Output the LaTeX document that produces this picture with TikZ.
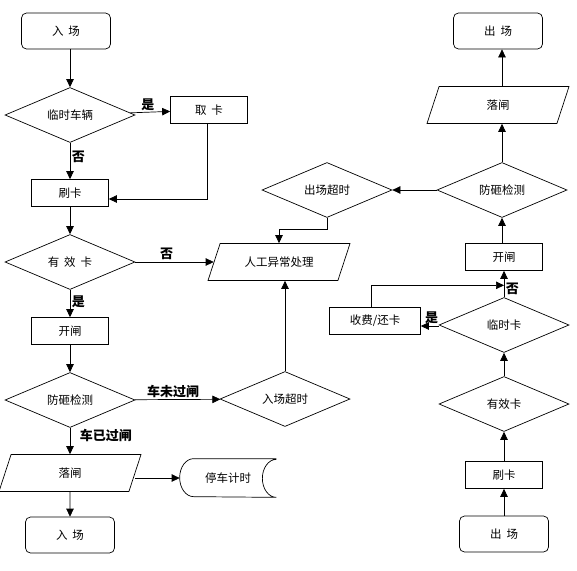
\documentclass[tikz,border=0pt]{standalone}
\usepackage{fontspec}
\setmainfont{Noto Sans CJK SC}
\usetikzlibrary{arrows.meta}
\usetikzlibrary{shapes.geometric}
\usetikzlibrary{calc}
\newcommand{\chgap}{\hspace{5pt}}

\begin{document}
\begin{tikzpicture}[x=1pt,y=1pt,line width=0.7pt]

  \tikzset{
    arr/.style={-{Triangle[length=8pt,width=7.5pt]}},
    term/.style={draw,rounded corners=5pt,minimum width=89pt,minimum height=36pt,
      font=\fontsize{11.5}{13}\selectfont},
    proc/.style={draw,minimum width=77pt,minimum height=27pt,
      font=\fontsize{11.5}{13}\selectfont},
    decide/.style={draw,diamond,aspect=2.4,minimum width=130pt,minimum height=55pt,
      inner sep=0pt,font=\fontsize{11.5}{13}\selectfont},
    io/.style={draw,trapezium,trapezium left angle=55,trapezium right angle=125,
      trapezium stretches body,minimum width=142pt,minimum height=37pt,
      font=\fontsize{11.5}{13}\selectfont},
    lbl/.style={font=\fontsize{13}{15}\selectfont\bfseries,inner sep=1.5pt},
  }
  \useasboundingbox (0,0) rectangle (577,-570);

  %ENTRY COLUMN
  \node[term] (in1) at (66,-31) {入\chgap 场};
  \node[decide] (q1) at (70,-115) {临时车辆};
  \node[proc] (take) at (209,-110) {取\chgap 卡};
  \node[proc] (swipe1) at (70,-193) {刷卡};
  \node[decide] (valid1) at (70,-262) {有\chgap 效\chgap 卡};
  \node[proc] (open1) at (70,-331) {开闸};
  \node[decide] (guard1) at (70,-400) {防砸检测};
  \node[io] (drop1) at (70,-473) {落闸};
  \node[term] (in2) at (70,-535) {入\chgap 场};

  %MIDDLE
  \node[io] (manual) at (279,-262) {人工异常处理};
  \node[decide] (late1) at (285,-399) {入场超时};
  \node[minimum width=96pt,minimum height=38pt,inner sep=0pt,
    font=\fontsize{11.5}{13}\selectfont] (park) at (228,-478) {停车计时};
  \draw (park.north east) -- ([xshift=14pt]park.north west)
    arc[start angle=90,end angle=270,x radius=14pt,y radius=19pt]
    -- (park.south east)
    arc[start angle=-90,end angle=-270,x radius=14pt,y radius=19pt];

  %EXIT COLUMN
  \node[term] (out1) at (498,-31) {出\chgap 场};
  \node[io] (drop2) at (498,-105) {落闸};
  \node[decide] (guard2) at (502,-190) {防砸检测};
  \node[decide] (late2) at (327,-190) {出场超时};
  \node[proc] (open2) at (504,-257) {开闸};
  \node[decide] (q2) at (504,-325) {临时卡};
  \node[proc,minimum width=91pt] (pay) at (375,-321) {收费/还卡};
  \node[decide] (valid2) at (504,-404) {有效卡};
  \node[proc] (swipe2) at (504,-475) {刷卡};
  \node[term] (out2) at (504,-534) {出\chgap 场};

  %ENTRY ARROWS
  \draw[arr] (in1.south -| q1.north) -- (q1.north);
  \draw[arr] (q1) -- node[lbl,pos=.44,above] {是} (take);
  \draw[arr] (q1) -- node[lbl,pos=.38,right] {否} (swipe1);
  \draw[arr] ([xshift=-2pt]take.south) |- ([yshift=-6pt]swipe1.east);
  \draw[arr] (swipe1) -- (valid1);
  \draw[arr] (valid1) -- node[lbl,pos=.4,above] {否} (manual);
  \draw[arr] (valid1) -- node[lbl,pos=.43,right] {是} (open1);
  \draw[arr] (open1) -- (guard1);
  \draw[arr] (guard1) -- node[lbl,pos=.45,above] {车未过闸} (late1);
  \draw[arr] (late1.north) -- (late1.north |- manual.south);
  \draw[arr] (guard1) -- node[lbl,pos=.3,right=8pt] {车已过闸} (drop1);
  \draw[arr] (drop1.east |- park.west) -- (park.west);
  \draw[arr] (drop1) -- (in2);

  %EXIT ARROWS
  \draw[arr] (out2) -- (swipe2);
  \draw[arr] (swipe2) -- (valid2);
  \draw[arr] (valid2) -- (q2);
  \draw[arr] (q2) -- node[lbl,pos=.3,right] {否} (open2);
  \draw[arr] ([yshift=-1pt]q2.west) -- node[lbl,pos=.4,above] {是} ([yshift=-1pt]q2.west -| pay.east);
  \draw[arr] ([xshift=-4pt]pay.north) |- ($(q2.north)!.45!(open2.south)$);
  \draw[arr] (open2.north -| guard2.south) -- (guard2.south);
  \draw[arr] (guard2) -- (late2);
  \draw[arr] (guard2.north) -- (guard2.north |- drop2.south);
  \draw[arr] (guard2.north |- drop2.north) -- (guard2.north |- out1.south);
  \draw[arr] (late2.south) -- ++(0,-11) -| (manual.north);

\end{tikzpicture}
\end{document}
